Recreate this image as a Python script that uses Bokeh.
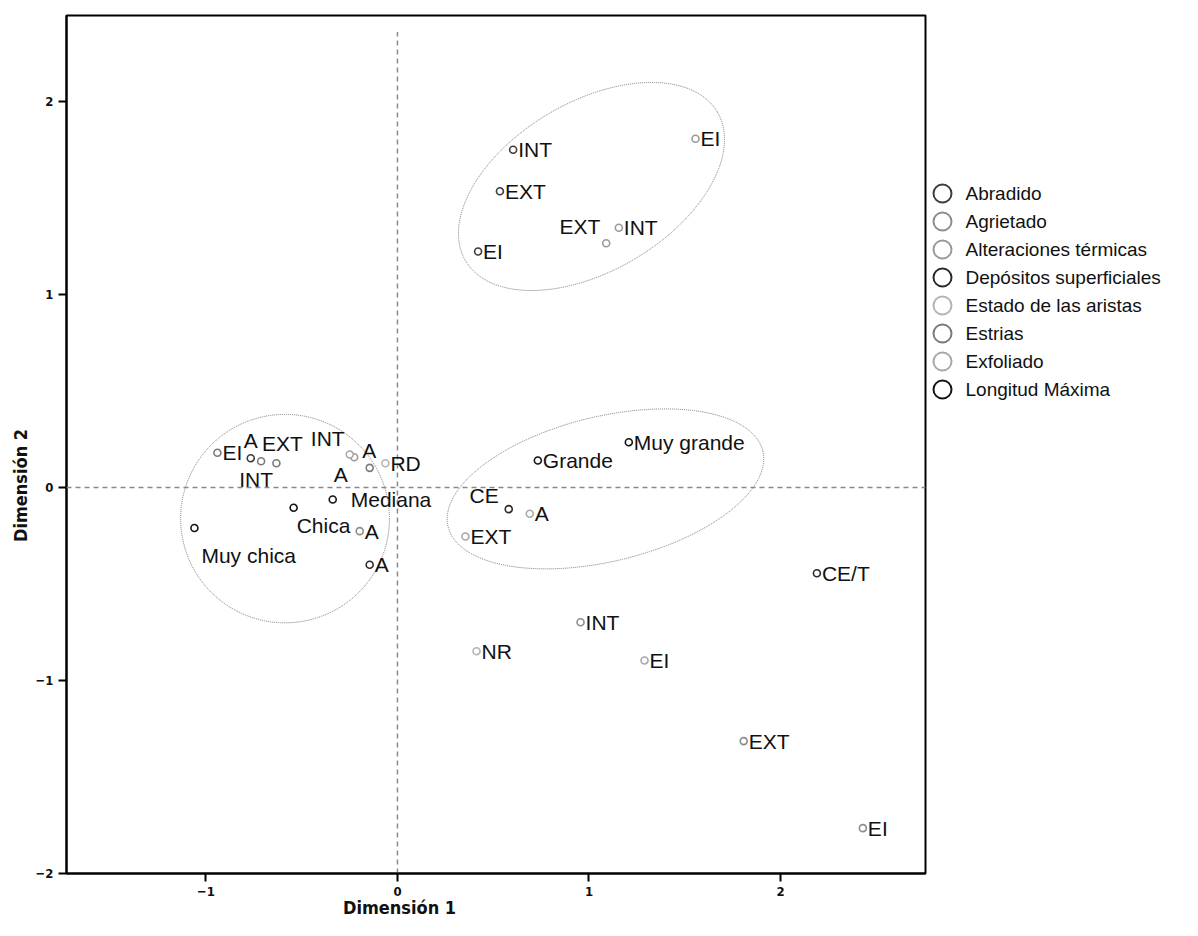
import math
from bokeh.plotting import figure
from bokeh.models import ColumnDataSource, Range1d, FixedTicker, Span, Title
from bokeh.layouts import row
from bokeh.embed import file_html
from bokeh.resources import INLINE
from bokeh.core.properties import value

# ---------------- data ----------------
variables = ["Abradido", "Agrietado", "Alteraciones térmicas", "Depósitos superficiales",
             "Estado de las aristas", "Estrias", "Exfoliado", "Longitud Máxima"]
var_colors = ["#3c3c3c", "#8c8c8c", "#9a9a9a", "#2a2a2a",
              "#b4b4b4", "#7a7a7a", "#a8a8a8", "#141414"]

point_var = [0, 0, 0, 0,
             1, 1, 1, 1,
             2, 2, 2, 2,
             3, 3, 3,
             4, 4,
             5, 5, 5, 5,
             6, 6, 6, 6,
             7, 7, 7, 7, 7]
point_labels = ["A", "EXT", "INT", "EI",
                "A", "EXT", "INT", "EI",
                "A", "EXT", "INT", "EI",
                "A", "CE", "CE/T",
                "RD", "NR",
                "A", "EXT", "INT", "EI",
                "A", "EXT", "INT", "EI",
                "Muy chica", "Chica", "Mediana", "Grande", "Muy grande"]
dim1 = [-0.766, 0.535, 0.604, 0.421,
        -0.197, 1.808, 0.956, 2.430,
        -0.226, 1.090, 1.156, 1.556,
        -0.145, 0.581, 2.190,
        -0.063, 0.413,
        -0.145, -0.632, -0.712, -0.940,
        0.691, 0.355, -0.249, 1.290,
        -1.060, -0.542, -0.338, 0.733, 1.208]
dim2 = [0.152, 1.535, 1.750, 1.223,
        -0.226, -1.314, -0.698, -1.765,
        0.157, 1.266, 1.346, 1.807,
        -0.400, -0.112, -0.444,
        0.126, -0.848,
        0.102, 0.126, 0.136, 0.180,
        -0.136, -0.254, 0.171, -0.896,
        -0.210, -0.105, -0.062, 0.140, 0.235]

x_ticks = [-1, 0, 1, 2]
y_ticks = [-2, -1, 0, 1, 2]
x_title = "Dimensión 1"
y_title = "Dimensión 2"

# label placement (screen px offsets) -- layout only
label_dx = [5] * len(point_labels)
label_dy = [0] * len(point_labels)
label_align = ["left"] * len(point_labels)
special = {0: (0, -18, "center"), 19: (-5, 18, "center"), 18: (6, -20, "center"),
           23: (-22, -16, "center"), 8: (15, -7, "center"), 17: (-29, 7, "center"),
           27: (18, 0, "left"), 26: (3, 18, "left"), 25: (7, 27, "left"),
           13: (-10, -14, "right"), 9: (-6, -17, "right")}
for k, (dx, dy, al) in special.items():
    label_dx[k], label_dy[k], label_align[k] = dx, dy, al

# grouping ellipses (annotation geometry)
ell_x = [1.013, -0.587, 1.086]
ell_y = [1.56, -0.161, -0.007]
ell_w = [1.527, 1.09, 1.69]
ell_h = [0.875, 1.08, 0.751]
ell_angle = [0.534, 0.0, 0.236]

# ---------------- main figure ----------------
X0, X1 = -1.728, 2.757
Y0, Y1 = -2.0, 2.446
FW, FH = 859, 858
COND = "DejaVu Sans Condensed, Liberation Sans Narrow, Liberation Sans"

p = figure(frame_width=FW, frame_height=FH, x_range=Range1d(X0, X1), y_range=Range1d(Y0, Y1),
           output_backend="svg", toolbar_location=None, title=None,
           min_border_left=66, min_border_top=15, min_border_bottom=62, min_border_right=4)
p.grid.visible = False
p.outline_line_color = "black"
p.outline_line_width = 2
p.background_fill_color = "white"
p.border_fill_color = "white"

for ax, ticks in ((p.xaxis, x_ticks), (p.yaxis, y_ticks)):
    ax.ticker = FixedTicker(ticks=ticks)
    ax.minor_tick_line_color = None
    ax.major_tick_in = 0
    ax.major_tick_out = 8
    ax.major_tick_line_width = 2
    ax.axis_line_width = 2
    ax.major_label_text_font = COND
    ax.major_label_text_font_style = "bold"
    ax.major_label_text_font_size = "13px"
    ax.major_label_text_color = "#111111"
    ax.major_label_standoff = 5

# reference lines
p.add_layout(Span(location=0, dimension="width", line_color="#8a8a8a",
                  line_dash="5 4", line_width=1.5))
p.segment(x0=[0], y0=[Y0], x1=[0], y1=[2.36], line_color="#8a8a8a",
          line_dash="5 4", line_width=1.5)

# ellipses
p.ellipse(x=ell_x, y=ell_y, width=ell_w, height=ell_h, angle=ell_angle,
          fill_color=None, line_color="#7a7a7a", line_dash="1 1", line_width=1)

# points per variable
for vi, (name, col) in enumerate(zip(variables, var_colors)):
    idx = [i for i, v in enumerate(point_var) if v == vi]
    src = ColumnDataSource(dict(x=[dim1[i] for i in idx], y=[dim2[i] for i in idx]))
    p.scatter("x", "y", source=src, size=7, marker="circle", fill_color="white",
              line_color=col, line_width=1.6)

# point labels
for al in ("left", "center", "right"):
    idx = [i for i, a in enumerate(label_align) if a == al]
    src = ColumnDataSource(dict(x=[dim1[i] for i in idx], y=[dim2[i] for i in idx],
                                t=[point_labels[i] for i in idx],
                                dx=[label_dx[i] for i in idx], dy=[label_dy[i] for i in idx]))
    p.text(x="x", y="y", text="t", x_offset="dx", y_offset="dy", source=src,
           text_align=al, text_baseline="middle", text_font=value("Liberation Sans"),
           text_font_size="21px", text_color="#111111")

# axis titles (centred on the zero lines, as in the original)
TITLE_W = 109  # approx rendered length of a title in px
px_per_x = FW / (X1 - X0)
px_per_y = FH / (Y1 - Y0)
x_off = (0 - X0) * px_per_x - TITLE_W / 2
y_off = (0 - Y0) * px_per_y - TITLE_W / 2
p.add_layout(Title(text=x_title, align="left", offset=x_off, text_font=COND,
                   text_font_style="bold", text_font_size="18px", text_color="#111111",
                   standoff=-8), "below")
p.add_layout(Title(text=y_title, align="left", offset=y_off, text_font=COND,
                   text_font_style="bold", text_font_size="18px", text_color="#111111",
                   standoff=4), "left")

# ---------------- legend panel ----------------
LW, LH = 265, 935
lf = figure(frame_width=LW, frame_height=LH, x_range=Range1d(0, LW), y_range=Range1d(LH, 0),
            output_backend="svg", toolbar_location=None, title=None,
            x_axis_type=None, y_axis_type=None, min_border=0)
lf.grid.visible = False
lf.outline_line_color = None
legend_top, row_step = 178, 28
leg_y = [legend_top + i * row_step for i in range(len(variables))]
lsrc = ColumnDataSource(dict(x=[13] * len(variables), tx=[36] * len(variables), y=leg_y,
                             c=var_colors, t=variables))
lf.scatter("x", "y", source=lsrc, size=18, marker="circle", fill_color=None,
           line_color="c", line_width=2)
lf.text(x="tx", y="y", text="t", source=lsrc, text_align="left", text_baseline="middle",
        text_font=value("Liberation Sans"), text_font_size="19px", text_color="#111111")

layout = row(p, lf)
open("out.html", "w").write(file_html(layout, INLINE))
